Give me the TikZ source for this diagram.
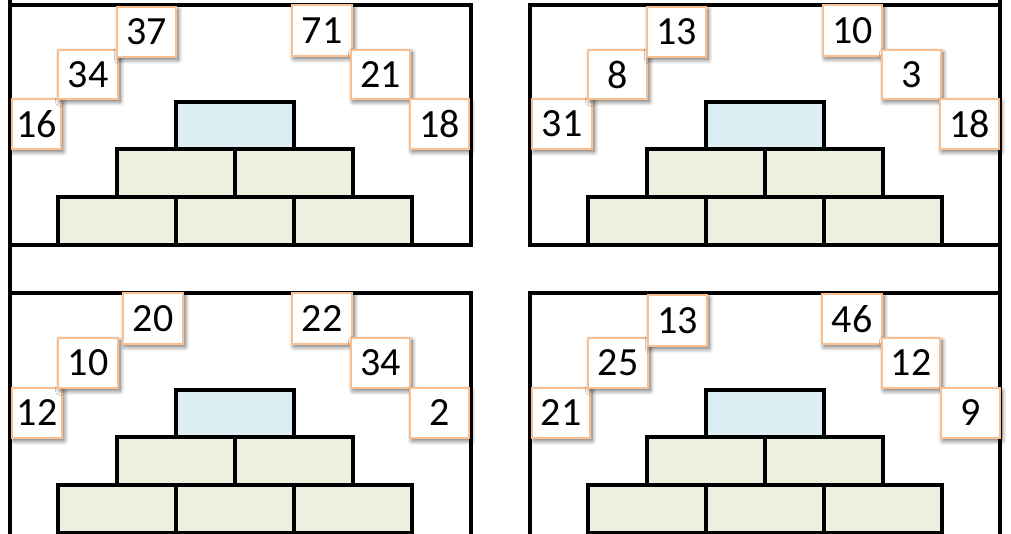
\documentclass[tikz,border=0pt]{standalone}
\usepackage{fontspec}
\setmainfont{Carlito}
\usetikzlibrary{shadows.blur}
\definecolor{capblue}{HTML}{DAEEF3}
\definecolor{brickgreen}{HTML}{EBF1DE}
\definecolor{cellorange}{HTML}{FABF8F}
\tikzset{
  numcell/.style={draw=cellorange, line width=1.5pt, fill=white, inner sep=0pt,
    font=\fontsize{30}{32}\selectfont,
    blur shadow={shadow xshift=1.5pt, shadow yshift=-2pt, shadow blur steps=8,
      shadow blur radius=3.5pt, shadow opacity=60}},
  brick/.style={fill=brickgreen},
  capstone/.style={fill=capblue},
}
\begin{document}
\begin{tikzpicture}[x=0.75pt, y=-0.75pt]
% sheet measured in screen pixels, y running down
\def\frameLineWidth{2.6pt}
\def\brickLineWidth{2.5pt}
\newcommand{\brickpyramid}[2]{%
  \begin{scope}[shift={(#1,#2)}, line width=\brickLineWidth]
    \filldraw[capstone] (176,102) rectangle (294,149);
    \filldraw[brick] (117,149) rectangle (235,197);
    \filldraw[brick] (235,149) rectangle (353,197);
    \filldraw[brick] (58,197) rectangle (176,245);
    \filldraw[brick] (176,197) rectangle (294,245);
    \filldraw[brick] (294,197) rectangle (412,245);
  \end{scope}}
% name, left, top, right, bottom, number
\newcommand{\numcell}[6]{%
  \node[numcell, minimum width={(#4-#2)*0.75pt}, minimum height={(#5-#3)*0.75pt}]
    (#1) at ({(#2+#4)/2},{(#3+#5)/2}) {#6};}
\useasboundingbox (0,0) rectangle (1011,533);
\clip (0,0) rectangle (1011,533);
% Frames
\begin{scope}[line width=\frameLineWidth, line cap=rect]
  % outer sides
  \draw (10,-5) -- (10,540);
  \draw (1000,-5) -- (1000,540);
  % upper row
  \draw (10,5) -- (471,5) -- (471,245) -- (10,245);
  \draw (1000,5) -- (530,5) -- (530,245) -- (1000,245);
  % lower row
  \draw (10,293) -- (471,293) -- (471,540);
  \draw (1000,293) -- (530,293) -- (530,540);
\end{scope}
% Pyramids
\brickpyramid{0}{0}
\brickpyramid{530}{0}
\brickpyramid{0}{288}
\brickpyramid{530}{288}
% Number cells, upper left
\numcell{ul-a}{12}{99}{61}{149}{16}
\numcell{ul-b}{58}{50}{118}{99}{34}
\numcell{ul-c}{117}{7}{176}{57}{37}
\numcell{ul-d}{292}{5}{352}{56}{71}
\numcell{ul-e}{351}{50}{410}{99}{21}
\numcell{ul-f}{410}{99}{469}{149}{18}
% Number cells, upper right
\numcell{ur-a}{532}{99}{592}{149}{31}
\numcell{ur-b}{588}{50}{647}{99}{8}
\numcell{ur-c}{647}{7}{706}{57}{13}
\numcell{ur-d}{823}{5}{882}{56}{10}
\numcell{ur-e}{882}{50}{941}{99}{3}
\numcell{ur-f}{940}{99}{999}{149}{18}
% Number cells, lower left
\numcell{ll-a}{12}{388}{62}{438}{12}
\numcell{ll-b}{58}{338}{118}{388}{10}
\numcell{ll-c}{123}{293}{183}{344}{20}
\numcell{ll-d}{292}{293}{352}{344}{22}
\numcell{ll-e}{351}{338}{410}{388}{34}
\numcell{ll-f}{410}{388}{469}{438}{2}
% Number cells, lower right
\numcell{lr-a}{532}{388}{590}{438}{21}
\numcell{lr-b}{588}{338}{648}{388}{25}
\numcell{lr-c}{648}{295}{707}{346}{13}
\numcell{lr-d}{822}{294}{882}{344}{46}
\numcell{lr-e}{882}{338}{940}{388}{12}
\numcell{lr-f}{941}{388}{1000}{438}{9}
\end{tikzpicture}
\end{document}
